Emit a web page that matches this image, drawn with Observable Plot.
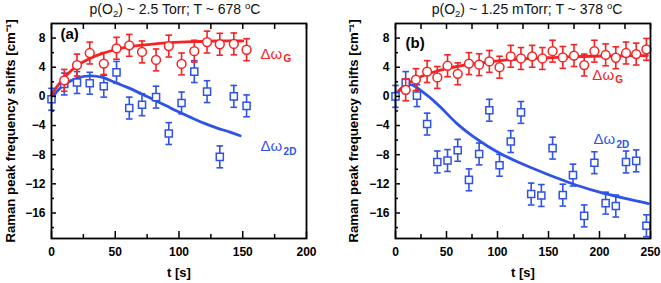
<!DOCTYPE html>
<html>
<head>
<meta charset="utf-8">
<script src="https://cdn.jsdelivr.net/npm/d3@7"></script>
<script src="https://cdn.jsdelivr.net/npm/@observablehq/plot@0.6"></script>
<style>
  html, body { margin: 0; padding: 0; background: #fff; }
  #wrap { position: relative; width: 661px; height: 283px; font-family: "Liberation Sans", Arial, sans-serif; }
  .panel { position: absolute; top: 0; overflow: visible; }
  .title { position: absolute; top: 1px; font-size: 14px; line-height: 16px; white-space: nowrap; transform: translateX(-50%); color: #111; }
  .title sub { font-size: 9.5px; vertical-align: -3px; line-height: 0; }
  .title sup { font-size: 9.5px; vertical-align: 5px; line-height: 0; }
  svg text { font-family: "Liberation Sans", Arial, sans-serif; }
</style>
</head>
<body>
<div id="wrap"></div>
<script>
// ---------- Panel (a): p(O2) ~ 2.5 Torr; T ~ 678 oC ----------
const aG_t = [10, 20, 30, 41, 51, 61, 71, 82, 92, 102, 112, 122, 132, 143, 153];
const aG_v = [2.2, 4.3, 5.95, 4.5, 6.6, 7.0, 6.1, 5.0, 6.9, 4.45, 6.2, 7.45, 7.15, 7.2, 6.4];
const a2D_t = [0, 10, 20, 30, 41, 51, 61, 71, 82, 92, 102, 112, 122, 132, 143, 153];
const a2D_v = [-0.4, 1.7, 1.9, 1.8, 1.4, 3.3, -1.6, -1.15, -0.1, -5.1, -0.9, 3.4, 0.65, -8.3, 0.0, -1.3];
const aGfit_t = [0, 5, 10, 20, 30, 40, 50, 60, 75, 90, 110, 130, 150];
const aGfit_v = [0.2, 1.5, 2.6, 4.2, 5.2, 5.9, 6.4, 6.8, 7.1, 7.35, 7.5, 7.6, 7.6];
const a2Dfit_t = [0, 5, 10, 20, 30, 40, 50, 60, 70, 80, 90, 100, 110, 120, 130, 140, 148];
const a2Dfit_v = [-0.3, 0.8, 1.6, 2.5, 2.8, 2.6, 1.9, 1.2, 0.4, -0.45, -1.3, -2.15, -2.95, -3.7, -4.35, -4.9, -5.4];

// ---------- Panel (b): p(O2) ~ 1.25 mTorr; T ~ 378 oC ----------
const bG_t = [10, 20, 31, 41, 51, 61, 72, 82, 92, 102, 113, 123, 134, 144, 154, 164, 175, 185, 195, 206, 216, 226, 236, 246];
const bG_v = [0.9, 2.3, 3.4, 2.6, 4.2, 3.1, 4.5, 4.35, 4.8, 4.0, 5.5, 5.2, 5.5, 5.2, 6.2, 5.35, 5.6, 4.3, 6.2, 5.7, 5.3, 5.95, 5.8, 6.45];
const b2D_t = [0, 10, 21, 31, 41, 51, 61, 72, 82, 92, 102, 113, 123, 133, 143, 154, 164, 174, 185, 195, 206, 216, 226, 236, 246];
const b2D_v = [0.0, 1.9, 0.1, -3.8, -9.0, -8.8, -7.4, -11.45, -7.9, -1.9, -9.45, -6.2, -2.2, -13.4, -13.6, -7.1, -13.55, -10.8, -16.4, -9.1, -14.65, -15.05, -9.0, -8.85, -17.75];
const bGfit_t = [0, 5, 10, 20, 30, 40, 50, 60, 75, 90, 110, 130, 150, 175, 200, 225, 247];
const bGfit_v = [0.3, 1.0, 1.6, 2.4, 3.0, 3.45, 3.8, 4.1, 4.45, 4.7, 5.0, 5.2, 5.3, 5.45, 5.52, 5.57, 5.6];
const b2Dfit_t = [0, 5, 10, 15, 20, 25, 35, 45, 60, 75, 90, 105, 120, 135, 150, 165, 180, 200, 225, 248];
const b2Dfit_v = [-0.1, 1.0, 1.5, 1.6, 1.3, 0.8, -0.3, -1.6, -3.7, -5.4, -6.8, -8.0, -9.0, -9.9, -10.75, -11.55, -12.3, -13.15, -14.0, -14.7];

const errBar = 1.5;           // half-length of every error bar (cm^-1)
const yTicksMajor = [-16, -12, -8, -4, 0, 4, 8];
const yTicksMinor = [-18, -14, -10, -6, -2, 2, 6];
const aXTicksMajor = [0, 50, 100, 150, 200];
const aXTicksMinor = [25, 75, 125, 175];
const bXTicksMajor = [0, 50, 100, 150, 200, 250];
const bXTicksMinor = [25, 75, 125, 175, 225];

const RED = "#f52323";
const BLUE = "#2e53e6";
const zip = (ts, vs) => ts.map((t, i) => ({t, v: vs[i]}));

const capSymbol = {
  draw(context, size) {
    const r = Math.sqrt(size / Math.PI);
    context.moveTo(-r, 0);
    context.lineTo(r, 0);
  }
};

function panel(opts) {
  const G = zip(opts.Gt, opts.Gv), D = zip(opts.Dt, opts.Dv);
  const Gf = zip(opts.Gft, opts.Gfv), Df = zip(opts.Dft, opts.Dfv);
  const series = (data, color, symbol, r) => [
    Plot.ruleX(data, {x: "t", y1: d => d.v - errBar, y2: d => d.v + errBar, stroke: color, strokeWidth: 1.6}),
    Plot.dot(data, {x: "t", y: d => d.v + errBar, symbol: capSymbol, r: 3.3, stroke: color, strokeWidth: 1.6}),
    Plot.dot(data, {x: "t", y: d => d.v - errBar, symbol: capSymbol, r: 3.3, stroke: color, strokeWidth: 1.6}),
    Plot.dot(data, {x: "t", y: "v", symbol, r, stroke: color, fill: "white", strokeWidth: 1.5})
  ];
  return Plot.plot({
    width: opts.width, height: 283,
    marginLeft: opts.ml, marginRight: opts.mr, marginTop: 23, marginBottom: 45,
    style: {fontFamily: "Liberation Sans, Arial, sans-serif", background: "white", overflow: "visible"},
    x: {domain: opts.xDomain, label: null},
    y: {domain: [-19.5, 10], label: null},
    marks: [
      Plot.line(Df, {x: "t", y: "v", stroke: BLUE, strokeWidth: 2.8, curve: "catmull-rom"}),
      Plot.line(Gf, {x: "t", y: "v", stroke: RED, strokeWidth: 2.8, curve: "catmull-rom"}),
      ...series(D, BLUE, "square", 4.0),
      ...series(G, RED, "circle", 4.4),
      Plot.axisX({ticks: opts.xMajor, tickSize: -7, tickPadding: 16, fontSize: 12, fontWeight: "bold", strokeWidth: 1.5, color: "#000"}),
      Plot.axisX({ticks: opts.xMinor, tickSize: -4, text: null, strokeWidth: 1.5}),
      Plot.axisX({anchor: "top", ticks: opts.xMajor.concat(opts.xMinor), tickSize: -5, text: null, strokeWidth: 1.5}),
      Plot.axisY({ticks: yTicksMajor, tickSize: -5, tickPadding: 11, fontSize: 12, fontWeight: "bold", strokeWidth: 1.5, color: "#000"}),
      Plot.axisY({ticks: yTicksMinor, tickSize: -3, text: null, strokeWidth: 1.5}),
      Plot.frame({stroke: "#000", strokeWidth: 1.8}),
      Plot.text([opts.tag], {frameAnchor: "top-left", dx: opts.tagDx, dy: opts.tagDy, fontSize: 15, fontWeight: "bold", textAnchor: "start", fill: "#000"}),
      Plot.text(["t [s]"], {frameAnchor: "bottom", dy: 38, fontSize: 13, fontWeight: "bold", fill: "#000"}),
      Plot.text(["Raman peak frequency shifts [cm⁻¹]"], {frameAnchor: "left", dx: opts.ylabDx, rotate: -90, textAnchor: "middle", fontSize: 13.2, fontWeight: "bold", fill: "#000"}),
      // curve labels: Δω with subscript
      Plot.text([opts.gLab], {x: "t", y: "v", text: () => "Δω", fill: RED, fontSize: 15, textAnchor: "start"}),
      Plot.text([opts.gLab], {x: "t", y: "v", text: () => "G", fill: RED, fontSize: 10, fontWeight: "bold", textAnchor: "start", dx: 23, dy: 5}),
      Plot.text([opts.dLab], {x: "t", y: "v", text: () => "Δω", fill: BLUE, fontSize: 15, textAnchor: "start"}),
      Plot.text([opts.dLab], {x: "t", y: "v", text: () => "2D", fill: BLUE, fontSize: 10, fontWeight: "bold", textAnchor: "start", dx: 23, dy: 5})
    ]
  });
}

const wrap = document.getElementById("wrap");

const pa = panel({
  width: 330, ml: 51, mr: 24, xDomain: [0, 200], xMajor: aXTicksMajor, xMinor: aXTicksMinor,
  Gt: aG_t, Gv: aG_v, Dt: a2D_t, Dv: a2D_v, Gft: aGfit_t, Gfv: aGfit_v, Dft: a2Dfit_t, Dfv: a2Dfit_v,
  tag: "(a)", tagDx: 9, tagDy: 5, ylabDx: -41,
  gLab: {t: 164, v: 5.8}, dLab: {t: 164, v: -6.9}
});
pa.classList.add("panel"); pa.style.left = "0px";
wrap.appendChild(pa);

const pb = panel({
  width: 331, ml: 65, mr: 11, xDomain: [0, 250], xMajor: bXTicksMajor, xMinor: bXTicksMinor,
  Gt: bG_t, Gv: bG_v, Dt: b2D_t, Dv: b2D_v, Gft: bGfit_t, Gfv: bGfit_v, Dft: b2Dfit_t, Dfv: b2Dfit_v,
  tag: "(b)", tagDx: 10, tagDy: 14, ylabDx: -42,
  gLab: {t: 193, v: 2.9}, dLab: {t: 194, v: -5.9}
});
pb.classList.add("panel"); pb.style.left = "330px";
wrap.appendChild(pb);

function addTitle(x, html) {
  const d = document.createElement("div");
  d.className = "title"; d.style.left = x + "px"; d.innerHTML = html;
  wrap.appendChild(d);
}
addTitle(175, "p(O<sub>2</sub>) ~ 2.5 Torr; T ~ 678 <sup>o</sup>C");
addTitle(527, "p(O<sub>2</sub>) ~ 1.25 mTorr; T ~ 378 <sup>o</sup>C");
</script>
</body>
</html>
